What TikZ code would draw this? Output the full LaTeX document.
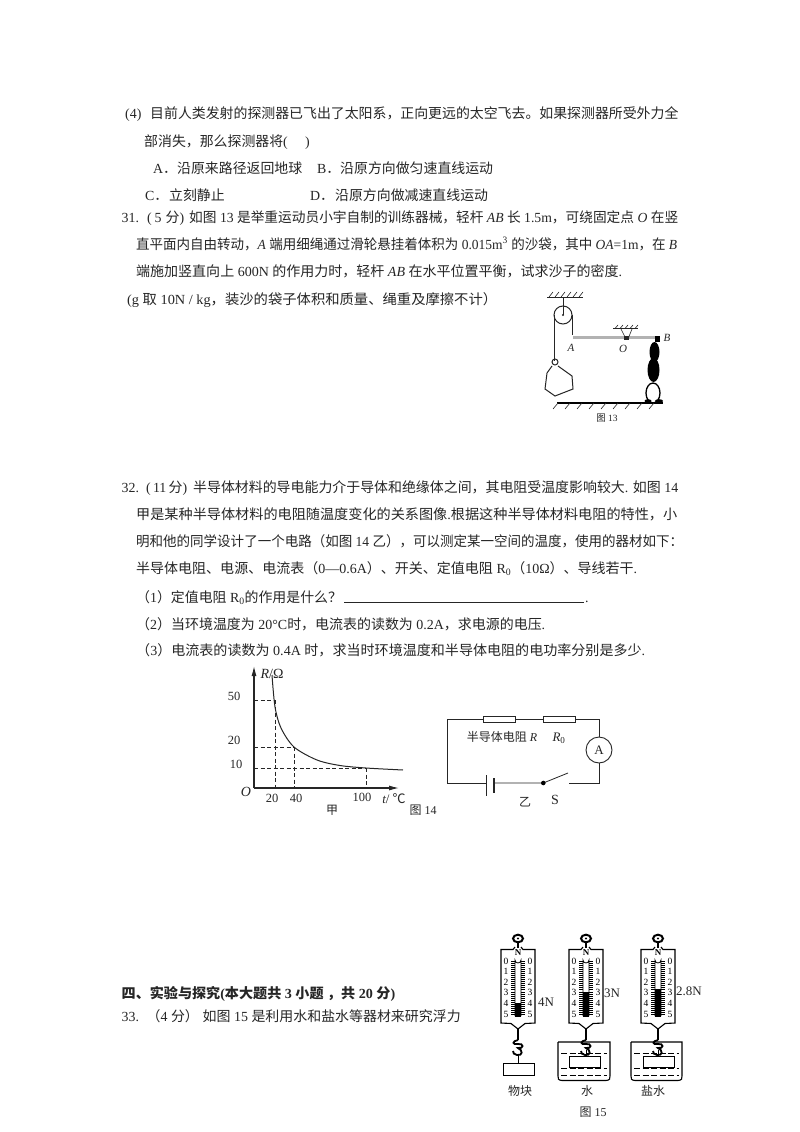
\documentclass[tikz,border=0pt]{standalone}
\usepackage{graphicx}
\usepackage{fontspec}
\setmainfont{Noto Sans CJK SC}
\newfontfamily\latf{Liberation Serif}
\newcommand\E[1]{{\latf #1}}
\newcommand\I[1]{{\latf\itshape #1}}
\newcommand\fitw[2]{\resizebox{#1pt}{\height}{#2}}
\usetikzlibrary{arrows.meta}
\definecolor{ink}{HTML}{262626}
\tikzset{
  txt/.style={anchor=base west,yshift=-5pt,inner sep=0pt,text=ink,font=\fontsize{13.9}{15}\selectfont},
  lab/.style={inner sep=0pt,text=ink,font=\fontsize{12}{14}\selectfont},
  small/.style={inner sep=0pt,text=ink,font=\fontsize{9.5}{11}\selectfont},
  wire/.style={draw=ink,line width=0.8pt},
  dash14/.style={draw=ink,line width=0.8pt,dash pattern=on 4pt off 2.5pt},
  hatch/.style={draw=ink,line width=0.6pt},
  heavy/.style={draw=black,line width=1.1pt},
  water/.style={draw=black,line width=0.8pt,dash pattern=on 6pt off 2.5pt}
}
\newcommand\balance[2]{%
  \begin{scope}[shift={(#1,0)}]
    \draw[black,line width=2pt] (0,938.5) circle[x radius=5,y radius=3.8];
    \fill[black] (0,938.5) circle[radius=1.2];
    \draw[black,line width=1.6pt] (0,942) -- (0,948);
    \draw[heavy] (-3,947) -- (-5,949.5) -- (-17,949.5) -- (-17,1023) -- (-7,1023.5) -- (0,1029) -- (7,1023.5) -- (17,1023) -- (17,949.5) -- (5,949.5) -- (3,947);
    \node[inner sep=0pt,font=\latf\bfseries\fontsize{9}{9}\selectfont] at (0,953) {N};
    \draw[black,line width=0.8pt] (-3,1016) -- (-3,960) arc[start angle=180,end angle=0,radius=3] -- (3,1016);
    \fill[black] (-3,#2) rectangle (3,1017);
    \foreach \k in {0,...,26}{
      \draw[black,line width=0.5pt] (-7,{961+\k*2.05}) -- (-3,{961+\k*2.05});
      \draw[black,line width=0.5pt] (3,{961+\k*2.05}) -- (7,{961+\k*2.05});
    }
    \foreach \k in {0,...,5}{
      \node[inner sep=0pt,font=\latf\fontsize{9.5}{9}\selectfont,fill=white] at (-12,{961+\k*10.6}) {\k};
      \node[inner sep=0pt,font=\latf\fontsize{9.5}{9}\selectfont,fill=white] at (12,{961+\k*10.6}) {\k};
    }
    \draw[black,line width=2pt] (0,1029) -- (0,1040);
    \draw[black,line width=1.8pt] (0,1040) .. controls (-6,1041) and (-6,1045) .. (0,1044) .. controls (6,1043) and (6,1049) .. (0,1048) .. controls (5,1050) and (5,1056) .. (-1,1055) .. controls (-4,1054.5) and (-5,1053) .. (-5,1051);
    \draw[black,line width=1pt] (0,1055) -- (0,1063);
  \end{scope}}
\newcommand\beaker[3]{%
  \draw[black,line width=1.1pt] (#1,1042) -- (#1,1076) .. controls (#1,1079) and (#1,1080) .. ({#1+4},1080.5) -- ({#2-4},1080.5) .. controls (#2,1080) and (#2,1079) .. (#2,1076) -- (#2,1042) -- (#1,1042);
  \draw[water] ({#1+3},1053) -- ({#2-3},1053);
  \draw[water,line width=1.3pt] ({#1+3},1068.5) -- ({#2-3},1068.5);
  \draw[water] ({#1+3},1075) -- ({#2-3},1075);
  \draw[black,line width=1pt,fill=white] (#3,1056) rectangle ({#3+31},1067);
}
\begin{document}
\begin{tikzpicture}[x=1pt,y=-1pt]
\useasboundingbox[fill=white] (0,0) rectangle (800,1132);
% question text
\node[txt] (l1) at (125,113) {\makebox[25pt][l]{\E{(4)}}目前人类发射的探测器已飞出了太阳系，正向更远的太空飞去。如果探测器所受外力全};
\node[txt] (l2) at (144,141) {部消失，那么探测器将\E{(\ \ \ \ \ )}};
\node[txt] (l3a) at (153,168) {\makebox[24pt][l]{\E{A}．}沿原来路径返回地球};
\node[txt] (l3b) at (317,168) {\makebox[23pt][l]{\E{B}．}沿原方向做匀速直线运动};
\node[txt] (l4a) at (145,195) {\makebox[24pt][l]{\E{C}．}立刻静止};
\node[txt] (l4b) at (310,195) {\makebox[25pt][l]{\E{D}．}沿原方向做减速直线运动};
\node[txt] (l5) at (121.5,217) {\makebox[67.5pt][l]{\E{31.}\hspace{8pt}\E{(\hspace{3pt}5\hspace{4pt}}分\E{)}}\fitw{489}{如图\E{ 13 }是举重运动员小宇自制的训练器械，轻杆\E{ }\I{AB}\E{ }长\E{ 1.5m}，可绕固定点\E{ }\I{O}\E{ }在竖}};
\node[txt] (l6) at (136,244) {\fitw{541}{直平面内自由转动，\I{A}\E{ }端用细绳通过滑轮悬挂着体积为\E{ 0.015m\textsuperscript{3} }的沙袋，其中\E{ }\I{OA}\E{=1m}，在\E{ }\I{B}}};
\node[txt] (l7) at (136,271) {\fitw{486}{端施加竖直向上\E{ 600N }的作用力时，轻杆\E{ }\I{AB}\E{ }在水平位置平衡，试求沙子的密度\E{.}}};
\node[txt] (l8) at (127,299) {\fitw{370}{\E{(g }取\E{ 10N / kg}，装沙的袋子体积和质量、绳重及摩擦不计）}};
\node[txt] (m1) at (121.5,487) {\makebox[71.5pt][l]{\E{32.}\hspace{7pt}\E{(\,11\,}分\E{)}}\fitw{485}{半导体材料的导电能力介于导体和绝缘体之间，其电阻受温度影响较大\E{. }如图\E{ 14}}};
\node[txt] (m2) at (136,514) {\fitw{541}{甲是某种半导体材料的电阻随温度变化的关系图像\E{.}根据这种半导体材料电阻的特性，小}};
\node[txt] (m3) at (136,541) {\fitw{547}{明和他的同学设计了一个电路（如图\E{ 14 }乙），可以测定某一空间的温度，使用的器材如下：}};
\node[txt] (m4) at (136,568) {\fitw{501}{半导体电阻、电源、电流表（\E{0—0.6A}）、开关、定值电阻\E{ R\textsubscript{0}}（\E{10Ω}）、导线若干\E{.}}};
\node[txt] (m5) at (136,597) {（\E{1}）定值电阻\E{ R\textsubscript{0}}的作用是什么？};
\coordinate (ua) at (344,602);
\coordinate (ub) at (584,602);
\draw[wire] (ua) -- (ub);
\node[txt] (m5e) at (585,597) {\E{.}};
\node[txt] (m6) at (136,624) {\fitw{409}{（\E{2}）当环境温度为\E{ 20°C}时，电流表的读数为\E{ 0.2A}，求电源的电压\E{.}}};
\node[txt] (m7) at (136,650) {\fitw{509}{（\E{3}）电流表的读数为\E{ 0.4A }时，求当时环境温度和半导体电阻的电功率分别是多少\E{.}}};
\node[txt,font=\bfseries\fontsize{13.9}{15}\selectfont] (h4) at (121.5,993) {\fitw{273.5}{四、实验与探究\E{\bfseries(}本大题共\E{\bfseries\ 3 }小题\E{\bfseries\ }，共\E{\bfseries\ 20 }分\E{\bfseries)}}};
\node[txt] (q33) at (121.5,1016) {\makebox[81pt][l]{\makebox[25pt][l]{\E{33.}}（\E{4 }分）}\fitw{258}{如图\E{ 15 }是利用水和盐水等器材来研究浮力}};

% Figure 13
\coordinate (ceilL) at (547,297);
\coordinate (ceilR) at (583,297);
\draw[wire,line width=1pt] (ceilL) -- (ceilR);
\foreach \x in {549,555,561,567,573,579} \draw[hatch] (\x,297) -- ({\x+4},292);
\coordinate (pul) at (563,315);
\draw[wire,line width=1pt] (pul) circle[radius=9];
\fill[ink] (pul) circle[radius=1.2];
\draw[wire] (563,297) -- (pul);
\draw[wire] (554,315) -- (554,361);
\draw[wire] (572,315) -- (572,335);
\draw[draw=ink,line width=0.5pt] (573,336) -- (657,336) (573,338.5) -- (657,338.5);
\fill[gray!60] (573,336) rectangle (657,338.5);
\draw[wire] (613,328.5) -- (638,328.5);
\foreach \x in {615,620,625,630,635} \draw[hatch] (\x,328.5) -- ({\x+3},325);
\draw[wire,line width=0.6pt] (621,329) -- (626,339) (632,329) -- (628,339);
\fill[ink] (624,336) rectangle (629,340);
\node[small,font=\fontsize{11}{12}\selectfont] (labA) at (571,348) {\I{A}};
\node[small,font=\fontsize{11}{12}\selectfont] (labO) at (623,349) {\I{O}};
\node[small,font=\fontsize{11}{12}\selectfont] (labB) at (667,338) {\I{B}};
\draw[wire,line width=1pt] (555,362) circle[x radius=3,y radius=3];
\draw[wire,line width=1pt] (558,366) -- (572,376) -- (573,389) -- (555,396) -- (545,389) -- (547,373) -- (552,366);
\fill[black] (655,336) rectangle (660,342);
\fill[black] (654.5,352) ellipse[x radius=5,y radius=10];
\fill[black] (653.5,370) ellipse[x radius=6,y radius=12];
\draw[black,line width=1.3pt] (653,393) ellipse[x radius=7,y radius=10];
\fill[black] (648,401) ellipse[x radius=3.5,y radius=1.8];
\fill[black] (659,401) ellipse[x radius=4,y radius=1.8];
\draw[black,line width=1.5pt] (557,403) -- (663,403);
\foreach \x in {558,570,...,654} \draw[hatch] (\x,403) -- ({\x-5},409);
\node[small] (cap13) at (607,418) {图\E{ 13}};

% Figure 14 graph
\coordinate (O14) at (254,788);
\coordinate (Y14) at (254,666);
\coordinate (X14) at (399,788);
\draw[wire,line width=1.1pt,-{Latex[length=10pt,width=5pt]}] (O14) -- (Y14);
\draw[wire,line width=1.1pt,-{Latex[length=10pt,width=5pt]}] (O14) -- (X14);
\draw[draw=ink,line width=1pt] plot[smooth] coordinates {(272,675) (275,707) (281,728) (294,747) (317,760) (340,765.5) (366,768) (403,770)};
\draw[dash14] (254,700) -- (275,700) (275,700) -- (275,788);
\draw[dash14] (254,747) -- (294,747) (294,747) -- (294,788);
\draw[dash14] (254,768) -- (366,768) (366,768) -- (366,788);
\node[lab,font=\latf\fontsize{12.5}{14}\selectfont] (y50) at (234,696) {50};
\node[lab,font=\latf\fontsize{12.5}{14}\selectfont] (y20) at (234,740) {20};
\node[lab,font=\latf\fontsize{12.5}{14}\selectfont] (y10) at (236,764) {10};
\node[lab,font=\latf\itshape\fontsize{14}{14}\selectfont] (o14) at (246,792) {O};
\node[lab,font=\latf\fontsize{12.5}{14}\selectfont] (x20) at (272,798) {20};
\node[lab,font=\latf\fontsize{12.5}{14}\selectfont] (x40) at (296,798) {40};
\node[lab,font=\latf\fontsize{12.5}{14}\selectfont] (x100) at (362,797) {100};
\node[lab,font=\fontsize{13}{14}\selectfont] (xlab) at (394,799) {\I{t}\E{/ }℃};
\node[lab,font=\latf\fontsize{14}{14}\selectfont] (ylab) at (272,674) {\textit{R}/Ω};
\node[lab] (jia) at (332,810) {甲};
\node[lab] (cap14) at (423,810) {图\E{ 14}};

% Figure 14 circuit
\node[draw=ink,line width=0.9pt,minimum width=32pt,minimum height=6.5pt,inner sep=0pt] (r1) at (499.5,719.5) {};
\node[draw=ink,line width=0.9pt,minimum width=32pt,minimum height=6.5pt,inner sep=0pt] (r2) at (559,719.5) {};
\node[draw=ink,line width=0.9pt,circle,minimum size=26pt,inner sep=0pt,font=\latf\fontsize{13}{14}\selectfont,text=ink] (am) at (599,750) {A};
\coordinate (tl) at (447,719.5);
\coordinate (bl) at (447,783);
\coordinate (tr) at (599,719.5);
\coordinate (br) at (599,783);
\coordinate (bat1) at (486.7,783);
\coordinate (bat2) at (494,783);
\coordinate (dot) at (543.3,783);
\coordinate (blade) at (568,773);
\coordinate (cont) at (568.5,783);
\draw[wire] (bat1) -- (bl) -- (tl) -- (r1.west);
\draw[wire] (r1.east) -- (r2.west);
\draw[wire] (r2.east) -- (tr) -- (am.north);
\draw[wire] (am.south) -- (br) -- (cont);
\draw[wire] (bat2) -- (dot) -- (blade);
\fill[black] (dot) circle[radius=2.3];
\draw[wire] (486.7,775) -- (486.7,796);
\draw[wire,line width=1.5pt] (494,778) -- (494,792.5);
\node[lab] (lr) at (502,737) {半导体电阻\I{ R}};
\node[lab,font=\latf\fontsize{13}{14}\selectfont] (lr0) at (559,738) {\textit{R}\textsubscript{0}};
\node[lab] (yi) at (525,802) {乙};
\node[lab,font=\latf\fontsize{14}{14}\selectfont] (ls) at (555,800) {S};

% Figure 15
\balance{518}{1003}
\draw[black,line width=1pt,fill=white] (503,1063) rectangle (534,1075);
\balance{586}{992}
\balance{658}{989}
\beaker{558}{610}{569.5}
\beaker{631}{682}{643}
\draw[black,line width=1pt] (586,1050) -- (586,1056) (658,1050) -- (658,1056);
\node[lab,font=\latf\fontsize{13}{14}\selectfont] (n4) at (546,1002) {4N};
\node[lab,font=\latf\fontsize{13}{14}\selectfont] (n3) at (612,993) {3N};
\node[lab,font=\latf\fontsize{13}{14}\selectfont] (n28) at (689,991) {2.8N};
\node[lab] (wk) at (520,1091) {物块};
\node[lab] (sh) at (587,1091) {水};
\node[lab] (ys) at (653,1091) {盐水};
\node[lab] (cap15) at (593,1112) {图\E{ 15}};
\end{tikzpicture}
\end{document}
